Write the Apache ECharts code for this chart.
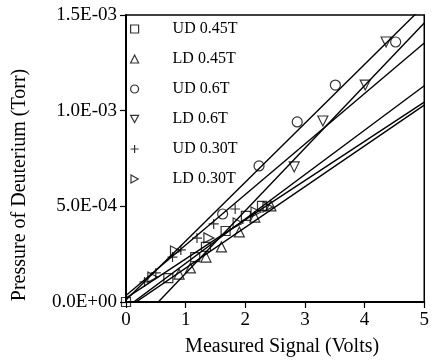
<!DOCTYPE html>
<html>
<head>
<meta charset="utf-8">
<script src="https://cdn.jsdelivr.net/npm/echarts@6/dist/echarts.min.js"></script>
<style>html,body{margin:0;padding:0;background:#fff}#c{width:432px;height:362px}</style>
</head>
<body>
<div id="c"></div>
<script>
// Series names
var seriesNames = ['UD 0.45T', 'LD 0.45T', 'UD 0.6T', 'LD 0.6T', 'UD 0.30T', 'LD 0.30T'];

// Measured signal (Volts) and pressure (Torr) per series
var ud045X = [0, 0.71, 1.16, 1.34, 1.67, 2.01, 2.28];
var ud045Y = [0, 0.125e-3, 0.235e-3, 0.288e-3, 0.371e-3, 0.450e-3, 0.502e-3];

var ld045X = [0.89, 1.08, 1.34, 1.60, 1.90, 2.16, 2.43];
var ld045Y = [0.146e-3, 0.178e-3, 0.235e-3, 0.288e-3, 0.366e-3, 0.444e-3, 0.502e-3];

var ud06X = [1.62, 2.23, 2.87, 3.51, 4.52];
var ud06Y = [0.460e-3, 0.711e-3, 0.941e-3, 1.134e-3, 1.359e-3];

var ld06X = [2.82, 3.30, 4.01, 4.36];
var ld06Y = [0.706e-3, 0.946e-3, 1.134e-3, 1.359e-3];

var ud030X = [0.31, 0.50, 0.78, 0.92, 1.19, 1.47, 1.83];
var ud030Y = [0.105e-3, 0.152e-3, 0.235e-3, 0.272e-3, 0.334e-3, 0.408e-3, 0.486e-3];

var ld030X = [0.45, 0.83, 1.39, 1.88, 2.18, 2.38];
var ld030Y = [0.130e-3, 0.267e-3, 0.335e-3, 0.413e-3, 0.470e-3, 0.497e-3];

// Linear fit parameters (slope in Torr/V, intercept in Torr), same order as seriesNames
var fitSlope = [0.232e-3, 0.213e-3, 0.308e-3, 0.327e-3, 0.264e-3, 0.205e-3];
var fitIntercept = [-0.030e-3, -0.036e-3, 0.010e-3, -0.177e-3, 0.034e-3, 0.020e-3];

// Axis ticks
var xTicks = [0, 1, 2, 3, 4, 5];
var yTicks = [0, 0.5e-3, 1.0e-3, 1.5e-3];

var allX = [ud045X, ld045X, ud06X, ld06X, ud030X, ld030X];
var allY = [ud045Y, ld045Y, ud06Y, ld06Y, ud030Y, ld030Y];

var symbols = [
  'rect',
  'triangle',
  'circle',
  'path://M0,0L10,0L5,9Z',
  'path://M5,0L5,10M0,5L10,5',
  'path://M0,0L9,5L0,10Z'
];
var symSizes = [9, 10, 10, 10, 10, 10];

var FONT = '"Liberation Serif", "DejaVu Serif", serif';

function fmtY(v) {
  if (v === 0) return '0.0E+00';
  var e = Math.floor(Math.log10(Math.abs(v)) + 1e-9);
  var m = v / Math.pow(10, e);
  return m.toFixed(1) + 'E' + (e < 0 ? '-' : '+') + String(Math.abs(e)).padStart(2, '0');
}

var series = [];
for (var i = 0; i < seriesNames.length; i++) {
  var pts = allX[i].map(function (x, k) { return [x, allY[i][k]]; });
  series.push({
    name: seriesNames[i],
    type: 'scatter',
    data: pts,
    symbol: symbols[i],
    symbolSize: symSizes[i],
    itemStyle: { color: 'rgba(0,0,0,0)', borderColor: '#000', borderWidth: 1.2 },
    z: 3
  });
}
var xMin = xTicks[0], xMax = xTicks[xTicks.length - 1];
for (var j = 0; j < fitSlope.length; j++) {
  series.push({
    name: 'fit' + j,
    type: 'line',
    data: [[xMin, fitIntercept[j] + fitSlope[j] * xMin], [xMax, fitIntercept[j] + fitSlope[j] * xMax]],
    showSymbol: false,
    symbol: 'none',
    clip: true,
    silent: true,
    lineStyle: { color: '#000', width: 1.4 },
    z: 2
  });
}

var chart = echarts.init(document.getElementById('c'), null, { renderer: 'canvas' });
chart.setOption({
  animation: false,
  backgroundColor: '#fff',
  grid: { left: 126, right: 3, top: 15, bottom: 60, show: true, borderColor: '#000', borderWidth: 1.5, containLabel: false },
  legend: {
    data: seriesNames.map(function (n, i) {
      return { name: n, icon: symbols[i] };
    }),
    orient: 'vertical',
    left: 125,
    top: 16,
    itemWidth: 8,
    itemHeight: 8,
    itemGap: 14,
    itemStyle: { color: 'rgba(0,0,0,0)', borderColor: '#000', borderWidth: 1.2 },
    textStyle: { fontFamily: FONT, fontSize: 16, color: '#000', padding: [0, 0, 0, 29] }
  },
  xAxis: {
    type: 'value',
    min: xTicks[0],
    max: xTicks[xTicks.length - 1],
    interval: 1,
    name: 'Measured Signal (Volts)',
    nameLocation: 'middle',
    nameGap: 35,
    nameTextStyle: { fontFamily: FONT, fontSize: 20, color: '#000', padding: [0, 0, 0, 14] },
    axisLine: { lineStyle: { color: '#000', width: 2 } },
    axisTick: { inside: false, length: 6, lineStyle: { color: '#000', width: 1.2 } },
    axisLabel: { fontFamily: FONT, fontSize: 19, color: '#000', margin: 9 },
    splitLine: { show: false }
  },
  yAxis: {
    type: 'value',
    min: yTicks[0],
    max: yTicks[yTicks.length - 1],
    interval: 0.5e-3,
    name: 'Pressure of Deuterium (Torr)',
    nameLocation: 'middle',
    nameGap: 96,
    nameRotate: 90,
    nameTextStyle: { fontFamily: FONT, fontSize: 20, color: '#000', padding: [0, 53, 0, 0] },
    axisLine: { show: true, lineStyle: { color: '#000', width: 2 } },
    axisTick: { show: true, inside: false, length: 6, lineStyle: { color: '#000', width: 1.2 } },
    axisLabel: { fontFamily: FONT, fontSize: 19, color: '#000', margin: 9, formatter: fmtY },
    splitLine: { show: false }
  },
  series: series
});
</script>
</body>
</html>
